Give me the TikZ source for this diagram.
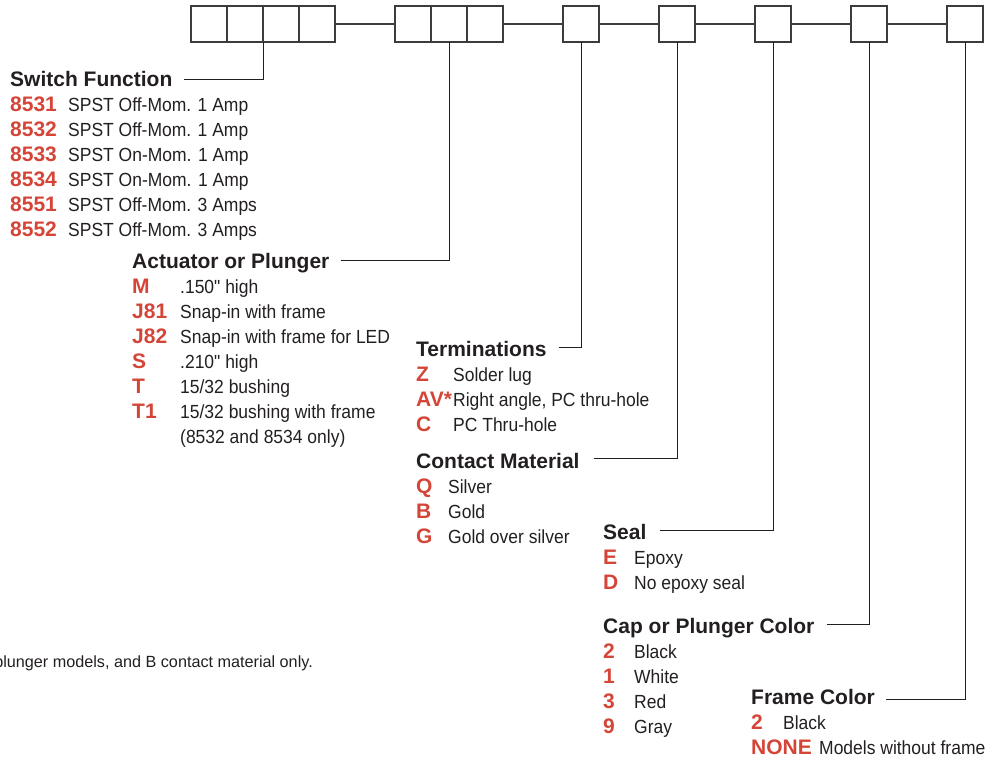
\documentclass[tikz,border=0pt]{standalone}
\usepackage{fontspec}
\setmainfont{Liberation Sans}
\newfontfamily\condfam[FakeStretch=0.92]{Liberation Sans}
\usetikzlibrary{positioning,calc}
\definecolor{swred}{RGB}{212,69,56}
\definecolor{ink}{RGB}{35,31,32}
\definecolor{rulegray}{RGB}{60,60,60}
\newcommand{\headfnt}{\fontsize{21}{25}\selectfont\bfseries}
\newcommand{\descfnt}{\condfam\fontsize{19}{25}\selectfont}

\begin{document}
\begin{tikzpicture}[x=1pt,y=1pt,
         cell/.style = {draw=rulegray,line width=1.3pt,minimum width=36pt,
         minimum height=36pt,inner sep=0pt,outer sep=0pt},
         link/.style = {draw=rulegray,line width=1.1pt},
         leader/.style = {draw=ink,line width=1pt},
         head/.style = {anchor=base west,inner sep=0pt,font=\headfnt,text=ink},
         code/.style = {anchor=base west,inner sep=0pt,font=\headfnt,text=swred},
         desc/.style = {anchor=base west,inner sep=0pt,font=\descfnt,text=ink}
]
      \clip (0,0) rectangle (988,-758);

      % part number boxes
      \node[cell] (b1) at (209,-24) {};
      \node[cell,right=0pt of b1] (b2) {};
      \node[cell,right=0pt of b2] (b3) {};
      \node[cell,right=0pt of b3] (b4) {};
      \node[cell,right=60pt of b4] (b5) {};
      \node[cell,right=0pt of b5] (b6) {};
      \node[cell,right=0pt of b6] (b7) {};
      \node[cell,right=60pt of b7] (b8) {};
      \node[cell,right=60pt of b8] (b9) {};
      \node[cell,right=60pt of b9] (b10) {};
      \node[cell,right=60pt of b10] (b11) {};
      \node[cell,right=60pt of b11] (b12) {};
      \draw[link] (b4) -- (b5);
      \draw[link] (b7) -- (b8);
      \draw[link] (b8) -- (b9);
      \draw[link] (b9) -- (b10);
      \draw[link] (b10) -- (b11);
      \draw[link] (b11) -- (b12);

      % switch function
      \node[head] (hsw) at (10,-86) {Switch Function};
      \node[code] (sw1) at (10,-111) {8531};
      \node[desc] (sw1d) at (68,-111) {SPST Off-Mom. 1 Amp};
      \node[code] (sw2) at (10,-136) {8532};
      \node[desc] (sw2d) at (68,-136) {SPST Off-Mom. 1 Amp};
      \node[code] (sw3) at (10,-161) {8533};
      \node[desc] (sw3d) at (68,-161) {SPST On-Mom. 1 Amp};
      \node[code] (sw4) at (10,-186) {8534};
      \node[desc] (sw4d) at (68,-186) {SPST On-Mom. 1 Amp};
      \node[code] (sw5) at (10,-211) {8551};
      \node[desc] (sw5d) at (68,-211) {SPST Off-Mom. 3 Amps};
      \node[code] (sw6) at (10,-236) {8552};
      \node[desc] (sw6d) at (68,-236) {SPST Off-Mom. 3 Amps};

      % actuator
      \node[head] (hact) at (132,-268) {Actuator or Plunger};
      \node[code] (act1) at (132,-293) {M};
      \node[desc] (act1d) at (180,-293) {.150" high};
      \node[code] (act2) at (132,-318) {J81};
      \node[desc] (act2d) at (180,-318) {Snap-in with frame};
      \node[code] (act3) at (132,-343) {J82};
      \node[desc] (act3d) at (180,-343) {Snap-in with frame for LED};
      \node[code] (act4) at (132,-368) {S};
      \node[desc] (act4d) at (180,-368) {.210" high};
      \node[code] (act5) at (132,-393) {T};
      \node[desc] (act5d) at (180,-393) {15/32 bushing};
      \node[code] (act6) at (132,-418) {T1};
      \node[desc] (act6d) at (180,-418) {15/32 bushing with frame};
      \node[desc] (act6e) at (180,-443) {(8532 and 8534 only)};

      % terminations
      \node[head] (hterm) at (416,-356) {Terminations};
      \node[code] (term1) at (416,-381) {Z};
      \node[desc] (term1d) at (453,-381) {Solder lug};
      \node[code] (term2) at (416,-406) {AV*};
      \node[desc] (term2d) at (453,-406) {Right angle, PC thru-hole};
      \node[code] (term3) at (416,-431) {C};
      \node[desc] (term3d) at (453,-431) {PC Thru-hole};

      % contact material
      \node[head] (hcont) at (416,-468) {Contact Material};
      \node[code] (cont1) at (416,-493) {Q};
      \node[desc] (cont1d) at (448,-493) {Silver};
      \node[code] (cont2) at (416,-518) {B};
      \node[desc] (cont2d) at (448,-518) {Gold};
      \node[code] (cont3) at (416,-543) {G};
      \node[desc] (cont3d) at (448,-543) {Gold over silver};

      % seal
      \node[head] (hseal) at (603,-539) {Seal};
      \node[code] (seal1) at (603,-564) {E};
      \node[desc] (seal1d) at (634,-564) {Epoxy};
      \node[code] (seal2) at (603,-589) {D};
      \node[desc] (seal2d) at (634,-589) {No epoxy seal};

      % cap color
      \node[head] (hcap) at (603,-633) {Cap or Plunger Color};
      \node[code] (cap1) at (603,-658) {2};
      \node[desc] (cap1d) at (634,-658) {Black};
      \node[code] (cap2) at (603,-683) {1};
      \node[desc] (cap2d) at (634,-683) {White};
      \node[code] (cap3) at (603,-708) {3};
      \node[desc] (cap3d) at (634,-708) {Red};
      \node[code] (cap4) at (603,-733) {9};
      \node[desc] (cap4d) at (634,-733) {Gray};

      % frame color
      \node[head] (hframe) at (751,-704) {Frame Color};
      \node[code] (frm1) at (751,-729) {2};
      \node[desc] (frm1d) at (783,-729) {Black};
      \node[code] (frm2) at (751,-754) {NONE};
      \node[desc] (frm2d) at (819,-754) {Models without frame};

      % footnote (cut at the left edge)
      \node[anchor=base east,inner sep=0pt,text=ink,font=\fontsize{16.2}{19}\selectfont]
         (fnote) at (313,-667) {plunger models, and B contact material only.};

      % leaders
      \draw[leader] ($(hsw.base east)+(11,7)$) -| (b2.south east);
      \draw[leader] ($(hact.base east)+(11,8)$) -| (b6.south);
      \draw[leader] ($(hterm.base east)+(12,9)$) -| (b8.south);
      \draw[leader] ($(hcont.base east)+(14,10)$) -| (b9.south);
      \draw[leader] ($(hseal.base east)+(13,9)$) -| (b10.south);
      \draw[leader] ($(hcap.base east)+(12,9)$) -| (b11.south);
      \draw[leader] ($(hframe.base east)+(11,5)$) -| (b12.south);
\end{tikzpicture}
\end{document}
